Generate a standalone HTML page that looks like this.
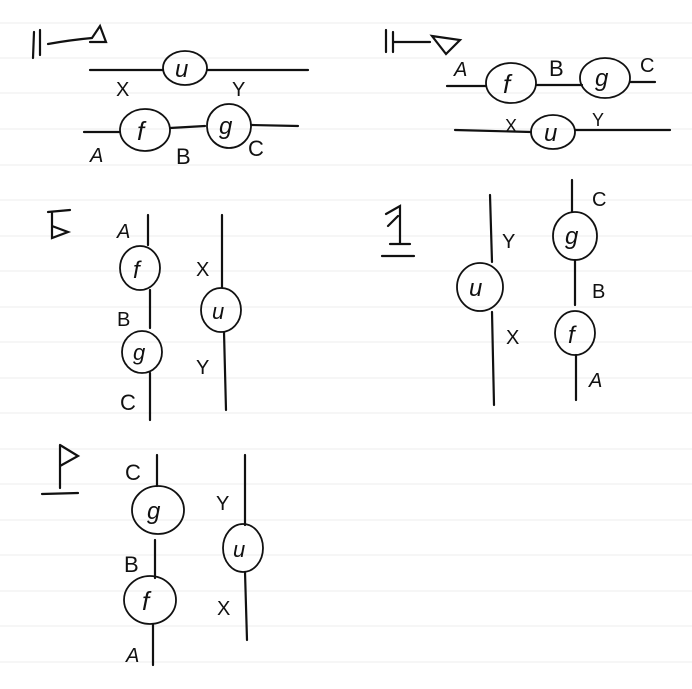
<!DOCTYPE html>
<html><head><meta charset="utf-8"><style>
html,body{margin:0;padding:0;background:#fff;}
svg{display:block;}
text{font-family:"Liberation Sans","DejaVu Sans",sans-serif;fill:#111;}
.l{stroke:#111;stroke-width:2.2;fill:none;stroke-linecap:round;}
.c{stroke:#111;stroke-width:1.8;fill:none;}
.g{stroke:#ececec;stroke-width:1;}
</style></head><body>
<svg width="692" height="689" viewBox="0 0 692 689" xmlns="http://www.w3.org/2000/svg">
<g class="g">
<line x1="0" y1="23" x2="692" y2="23"/><line x1="0" y1="58" x2="692" y2="58"/><line x1="0" y1="93" x2="692" y2="93"/><line x1="0" y1="129" x2="692" y2="129"/><line x1="0" y1="165" x2="692" y2="165"/><line x1="0" y1="200" x2="692" y2="200"/><line x1="0" y1="236" x2="692" y2="236"/><line x1="0" y1="271" x2="692" y2="271"/><line x1="0" y1="307" x2="692" y2="307"/><line x1="0" y1="342" x2="692" y2="342"/><line x1="0" y1="378" x2="692" y2="378"/><line x1="0" y1="413" x2="692" y2="413"/><line x1="0" y1="449" x2="692" y2="449"/><line x1="0" y1="484" x2="692" y2="484"/><line x1="0" y1="520" x2="692" y2="520"/><line x1="0" y1="555" x2="692" y2="555"/><line x1="0" y1="591" x2="692" y2="591"/><line x1="0" y1="626" x2="692" y2="626"/><line x1="0" y1="662" x2="692" y2="662"/>
</g>
<!-- Panel 1 -->
<path class="l" d="M34 32 L33 58 M40 30 L40 55 M48 44 Q70 40 92 38 L100 26 L106 42 L90 42"/>
<path class="l" d="M90 70 L163 70 M208 70 L308 70 M84 132 L120 132 M170 128 L205 126 M252 125 L298 126"/>
<ellipse class="c" cx="185" cy="68" rx="22" ry="17"/>
<ellipse class="c" cx="145" cy="130" rx="25" ry="21"/>
<ellipse class="c" cx="229" cy="126" rx="22" ry="22"/>
<text x="175" y="77" font-size="24" font-style="italic">u</text>
<text x="137" y="140" font-size="26" font-style="italic">f</text>
<text x="219" y="134" font-size="24" font-style="italic">g</text>
<text x="116" y="96" font-size="20">X</text>
<text x="232" y="96" font-size="20">Y</text>
<text x="90" y="162" font-size="20" font-style="italic">A</text>
<text x="176" y="164" font-size="22">B</text>
<text x="248" y="156" font-size="22">C</text>
<!-- Panel 2 -->
<path class="l" d="M386 30 L386 52 M393 32 L393 52 M393 42 L430 42 M432 36 L460 40 L446 54 Z"/>
<path class="l" d="M447 86 L486 86 M537 85 L582 85 M630 82 L655 82 M455 130 L531 132 M575 130 L670 130"/>
<ellipse class="c" cx="511" cy="83" rx="25" ry="20"/>
<ellipse class="c" cx="605" cy="78" rx="25" ry="20"/>
<ellipse class="c" cx="553" cy="132" rx="22" ry="17"/>
<text x="503" y="93" font-size="26" font-style="italic">f</text>
<text x="595" y="86" font-size="24" font-style="italic">g</text>
<text x="544" y="141" font-size="24" font-style="italic">u</text>
<text x="454" y="76" font-size="20" font-style="italic">A</text>
<text x="549" y="76" font-size="22">B</text>
<text x="640" y="72" font-size="20">C</text>
<text x="505" y="132" font-size="18">X</text>
<text x="592" y="126" font-size="18">Y</text>
<!-- Panel 3 -->
<path class="l" d="M48 212 L70 210 M52 212 L52 238 L68 232 L52 226"/>
<path class="l" d="M148 215 L148 245 M150 290 L150 328 M150 373 L150 420 M222 215 L222 287 M224 332 L226 410"/>
<ellipse class="c" cx="140" cy="268" rx="20" ry="22"/>
<ellipse class="c" cx="142" cy="352" rx="20" ry="21"/>
<ellipse class="c" cx="221" cy="310" rx="20" ry="22"/>
<text x="133" y="278" font-size="24" font-style="italic">f</text>
<text x="133" y="360" font-size="22" font-style="italic">g</text>
<text x="212" y="319" font-size="22" font-style="italic">u</text>
<text x="117" y="238" font-size="20" font-style="italic">A</text>
<text x="117" y="326" font-size="20">B</text>
<text x="120" y="410" font-size="22">C</text>
<text x="196" y="276" font-size="20">X</text>
<text x="196" y="374" font-size="20">Y</text>
<!-- Panel 4 -->
<path class="l" d="M386 214 L400 206 L400 244 M390 244 L410 244 M382 256 L414 256 M388 226 L398 216"/>
<path class="l" d="M490 195 L492 262 M492 312 L494 405 M572 180 L572 212 M575 260 L575 305 M576 355 L576 400"/>
<ellipse class="c" cx="480" cy="287" rx="23" ry="24"/>
<ellipse class="c" cx="575" cy="236" rx="22" ry="24"/>
<ellipse class="c" cx="575" cy="333" rx="20" ry="22"/>
<text x="469" y="296" font-size="24" font-style="italic">u</text>
<text x="565" y="244" font-size="24" font-style="italic">g</text>
<text x="568" y="343" font-size="24" font-style="italic">f</text>
<text x="502" y="248" font-size="20">Y</text>
<text x="506" y="344" font-size="20">X</text>
<text x="592" y="206" font-size="20">C</text>
<text x="592" y="298" font-size="20">B</text>
<text x="589" y="387" font-size="20" font-style="italic">A</text>
<!-- Panel 5 -->
<path class="l" d="M60 445 L60 488 M60 445 L78 456 L60 466 M42 494 L78 493"/>
<path class="l" d="M157 455 L157 486 M155 540 L155 578 M153 625 L153 665 M245 455 L245 525 M245 572 L247 640"/>
<ellipse class="c" cx="158" cy="510" rx="26" ry="24"/>
<ellipse class="c" cx="150" cy="600" rx="26" ry="24"/>
<ellipse class="c" cx="243" cy="548" rx="20" ry="24"/>
<text x="147" y="519" font-size="24" font-style="italic">g</text>
<text x="142" y="610" font-size="26" font-style="italic">f</text>
<text x="233" y="557" font-size="22" font-style="italic">u</text>
<text x="125" y="480" font-size="22">C</text>
<text x="124" y="572" font-size="22">B</text>
<text x="126" y="662" font-size="20" font-style="italic">A</text>
<text x="216" y="510" font-size="20">Y</text>
<text x="217" y="615" font-size="20">X</text>
</svg>
</body></html>
